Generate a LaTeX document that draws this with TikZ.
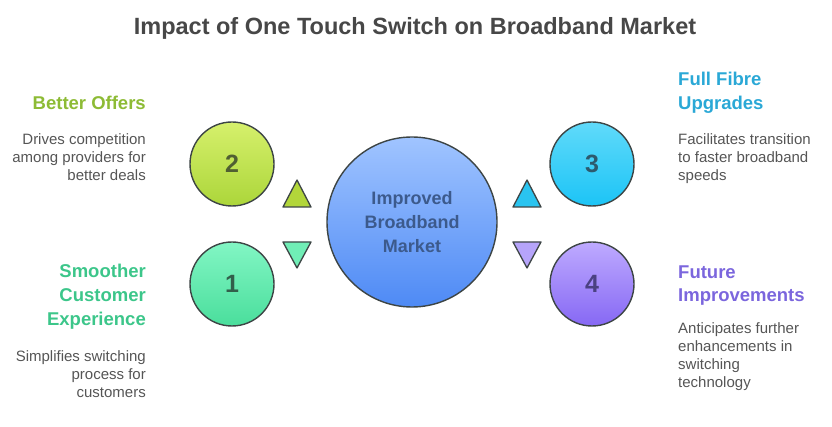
\documentclass[tikz,border=0pt]{standalone}
\usepackage{fontspec}
\setmainfont{Liberation Sans}
\usetikzlibrary{shadings}
\definecolor{edge}{HTML}{3D4545}
\definecolor{titlec}{HTML}{474747}
\definecolor{descc}{HTML}{555555}
\definecolor{cA}{HTML}{8DBB35}
\definecolor{cB}{HTML}{3CC68A}
\definecolor{cC}{HTML}{2AA8D6}
\definecolor{cD}{HTML}{7B66DD}
\definecolor{ctop}{RGB}{160,196,255}
\definecolor{cbot}{RGB}{78,138,245}
\definecolor{ctext}{RGB}{60,90,140}
\definecolor{aTop}{RGB}{214,240,108}
\definecolor{aBot}{RGB}{172,214,58}
\definecolor{aTxt}{RGB}{80,95,50}
\definecolor{aTri}{RGB}{178,214,58}
\definecolor{bTop}{RGB}{130,246,196}
\definecolor{bBot}{RGB}{74,222,156}
\definecolor{bTxt}{RGB}{50,95,75}
\definecolor{bTri}{RGB}{112,238,182}
\definecolor{dTop}{RGB}{96,218,250}
\definecolor{dBot}{RGB}{28,196,246}
\definecolor{dTxt}{RGB}{45,90,110}
\definecolor{dTri}{RGB}{42,196,240}
\definecolor{eTop}{RGB}{190,170,255}
\definecolor{eBot}{RGB}{134,104,244}
\definecolor{eTxt}{RGB}{75,65,130}
\definecolor{eTri}{RGB}{182,164,250}
\tikzset{
  x=1pt, y=-1pt,
  bub/.style={circle, draw=edge, line width=1.4pt, minimum size=84pt, inner sep=0pt,
    font=\fontsize{25}{25}\selectfont\bfseries},
  tri/.style={draw=edge, line width=1.3pt, line join=round},
  head/.style={inner sep=0pt, font=\fontsize{18.5}{24}\selectfont\bfseries},
  desc/.style={inner sep=0pt, text=descc, font=\fontsize{15}{18}\selectfont},
}
\begin{document}
\begin{tikzpicture}
\useasboundingbox (0,0) rectangle (832,427);
\node[anchor=base, inner sep=0pt, text=titlec, font=\fontsize{23.5}{26}\selectfont\bfseries] (title) at (415,35) {Impact of One Touch Switch on Broadband Market};

% center
\node[circle, draw=edge, line width=1.4pt, minimum size=170pt, inner sep=0pt,
  top color=ctop, bottom color=cbot,
  text=ctext, align=center, font=\fontsize{18}{24}\selectfont\bfseries] (center) at (412,222) {Improved\\Broadband\\Market};

% bubbles
\node[bub, top color=aTop, bottom color=aBot, text=aTxt] (n2) at (232,164) {2};
\node[bub, top color=bTop, bottom color=bBot, text=bTxt] (n1) at (232,284) {1};
\node[bub, top color=dTop, bottom color=dBot, text=dTxt] (n3) at (592,164) {3};
\node[bub, top color=eTop, bottom color=eBot, text=eTxt] (n4) at (592,284) {4};

% triangles
\coordinate (t2a) at (297,180); \coordinate (t2b) at (283,207); \coordinate (t2c) at (311,207);
\filldraw[tri, fill=aTri] (t2a) -- (t2b) -- (t2c) -- cycle;
\coordinate (t1a) at (297,268); \coordinate (t1b) at (283,242); \coordinate (t1c) at (311,242);
\filldraw[tri, fill=bTri] (t1a) -- (t1b) -- (t1c) -- cycle;
\coordinate (t3a) at (527,180); \coordinate (t3b) at (513,207); \coordinate (t3c) at (541,207);
\filldraw[tri, fill=dTri] (t3a) -- (t3b) -- (t3c) -- cycle;
\coordinate (t4a) at (527,268); \coordinate (t4b) at (513,242); \coordinate (t4c) at (541,242);
\filldraw[tri, fill=eTri] (t4a) -- (t4b) -- (t4c) -- cycle;

% left texts (base anchor = last line baseline)
\node[head, text=cA, anchor=base east, align=right] (h2) at (146,110) {Better Offers};
\node[desc, anchor=base east, align=right] (d2) at (146,181) {Drives competition\\among providers for\\better deals};
\node[head, text=cB, anchor=base east, align=right] (h1) at (146,326) {Smoother\\Customer\\Experience};
\node[desc, anchor=base east, align=right] (d1) at (146,397) {Simplifies switching\\process for\\customers};

% right texts
\node[head, text=cC, anchor=base west, align=left] (h3) at (678,110) {Full Fibre\\Upgrades};
\node[desc, anchor=base west, align=left] (d3) at (678,181) {Facilitates transition\\to faster broadband\\speeds};
\node[head, text=cD, anchor=base west, align=left] (h4) at (678,302) {Future\\Improvements};
\node[desc, anchor=base west, align=left] (d4) at (678,387) {Anticipates further\\enhancements in\\switching\\technology};
\end{tikzpicture}
\end{document}
